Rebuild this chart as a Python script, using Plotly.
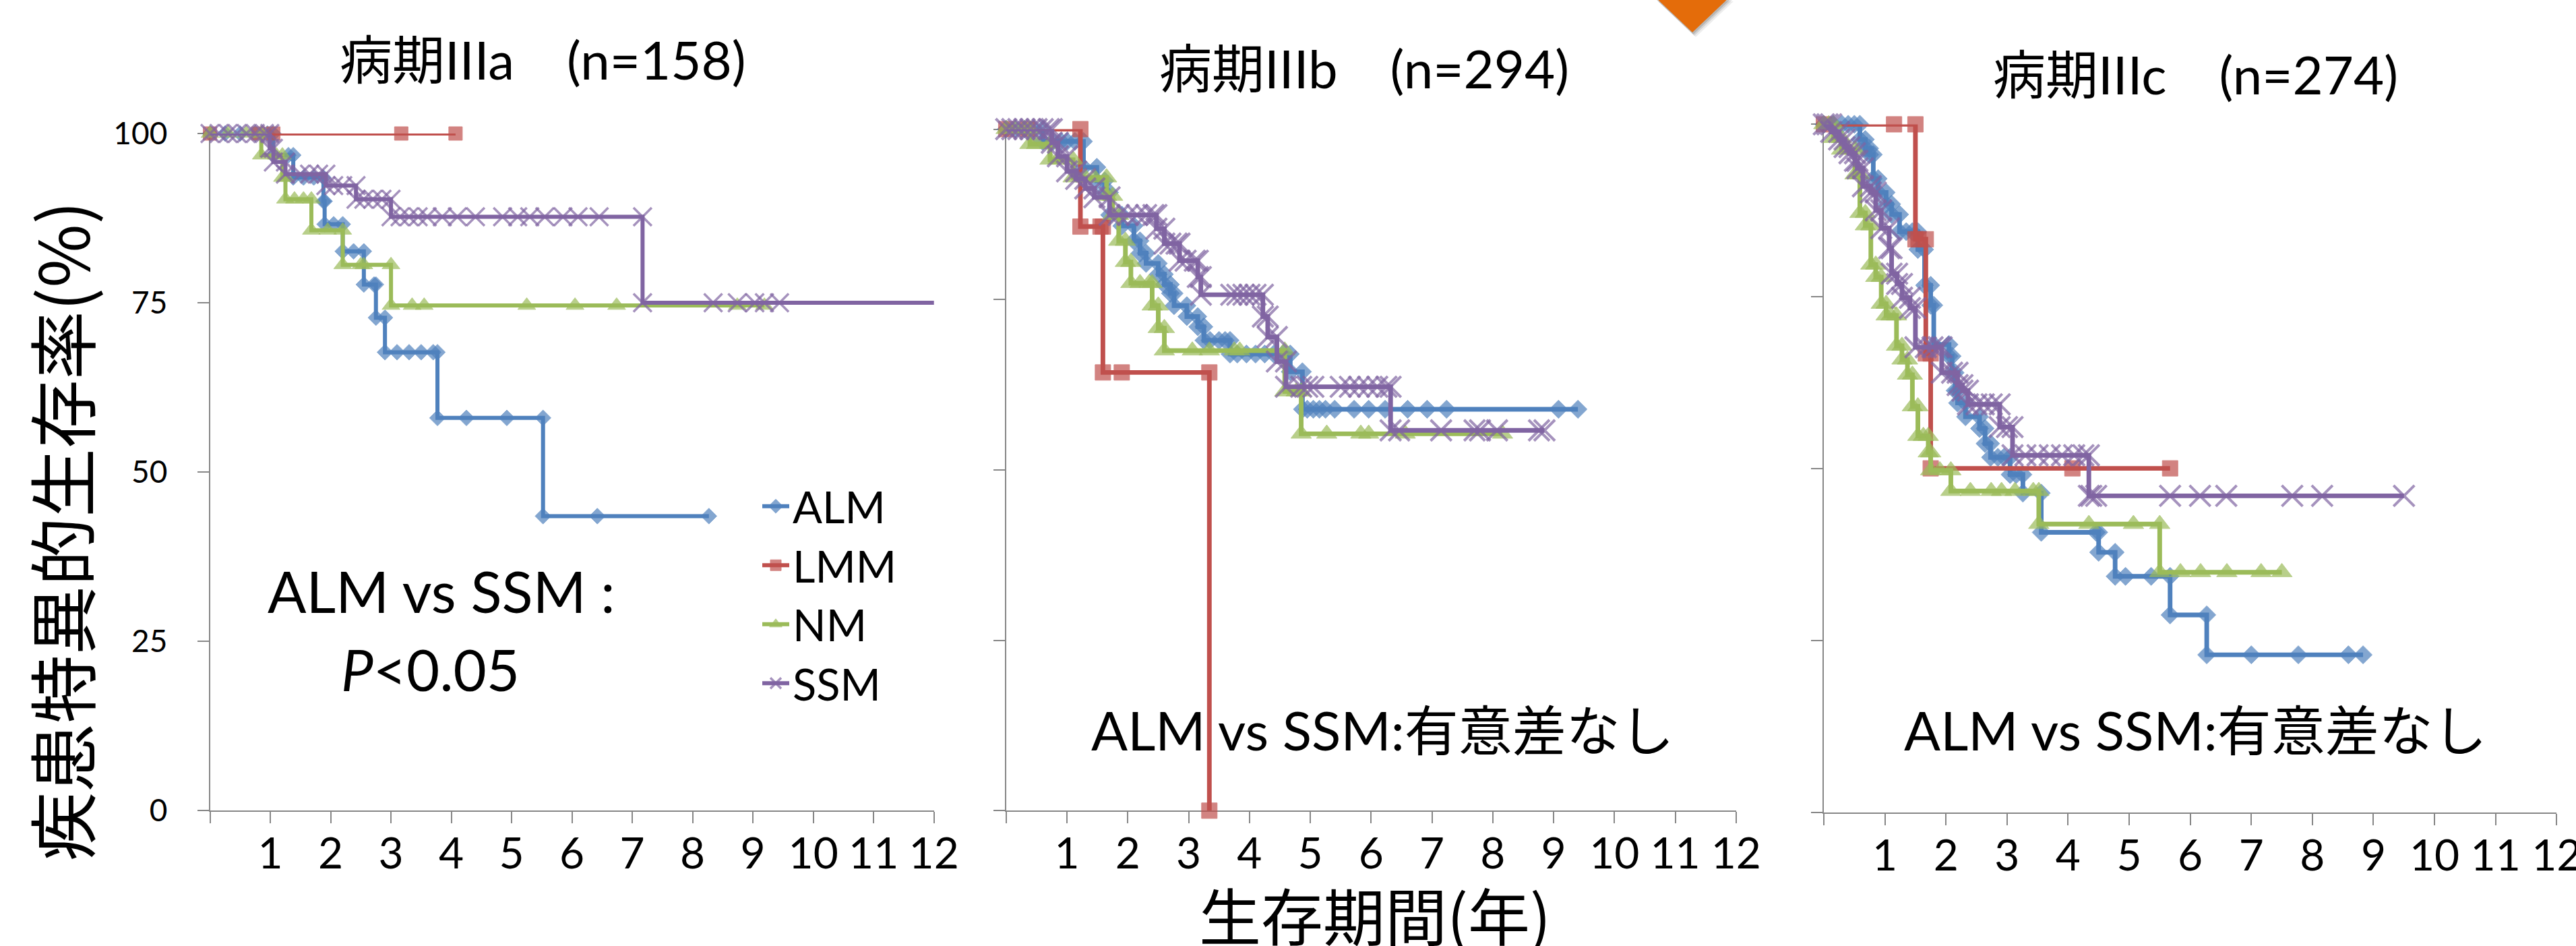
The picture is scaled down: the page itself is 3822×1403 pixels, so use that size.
import plotly.graph_objects as go

W, H = 3822, 1403

# ---- labels -------------------------------------------------------------
STAGE_TITLES = ["病期IIIa　(n=158)", "病期IIIb　(n=294)", "病期IIIc　(n=274)"]
SERIES = ["ALM", "LMM", "NM", "SSM"]
X_TICKS = list(range(0, 13))
X_TICK_LABELS = [""] + [str(i) for i in range(1, 13)]
Y_TICKS = [0, 25, 50, 75, 100]
Y_TICK_LABELS = ["0", "25", "50", "75", "100"]
X_MAX = 12

# ---- Kaplan-Meier data: time (years) / disease-specific survival (%) ----
# Stage IIIa
ALM_IIIA_T = [0, 0.25, 0.5, 0.75, 0.95, 1.05, 1.3, 1.38, 1.55, 1.72, 1.88, 1.9, 2.05, 2.2, 2.38,
              2.55, 2.72, 2.75, 2.9, 3.1, 3.3, 3.5, 3.7, 3.77, 4.25, 4.92, 5.52, 6.42, 8.27]
ALM_IIIA_S = [100, 100, 100, 100, 100, 96.8, 96.8, 93.5, 93.5, 93.5, 90.0, 86.6, 86.6, 82.6, 82.6,
              77.7, 77.7, 72.8, 67.7, 67.7, 67.7, 67.7, 67.7, 58.0, 58.0, 58.0, 43.5, 43.5, 43.5]
LMM_IIIA_T = [0, 0.8, 1.05, 3.17, 4.07]
LMM_IIIA_S = [100, 100, 100, 100, 100]
NM_IIIA_T = [0, 0.3, 0.6, 0.85, 1.1, 1.2, 1.25, 1.4, 1.55, 1.68, 1.95, 2.2, 2.5, 2.55, 3.0, 3.35,
             3.55, 5.25, 6.05, 6.74, 8.74, 9.19]
NM_IIIA_S = [100, 100, 100, 96.8, 96.8, 93.5, 90.3, 90.3, 90.3, 85.7, 85.7, 80.6, 80.6, 80.6, 74.6,
             74.6, 74.6, 74.6, 74.6, 74.6, 74.6, 74.6]
SSM_IIIA_T = [0, 0.15, 0.3, 0.45, 0.6, 0.75, 0.9, 0.99, 1.05, 1.25, 1.5, 1.65, 1.8, 1.92, 2.05, 2.2,
              2.42, 2.55, 2.7, 2.85, 3.0, 3.15, 3.3, 3.45, 3.6, 3.85, 4.1, 4.4, 4.85, 5.1, 5.3,
              5.55, 5.85, 6.1, 6.45, 7.17, 8.34, 8.74, 9.03, 9.19, 9.44, 12.6]
SSM_IIIA_S = [100, 100, 100, 100, 100, 100, 100, 97.8, 95.8, 94.0, 94.0, 94.0, 94.0, 92.3, 92.3,
              92.3, 90.3, 90.3, 90.3, 90.3, 87.7, 87.7, 87.7, 87.7, 87.7, 87.7, 87.7, 87.7, 87.7,
              87.7, 87.7, 87.7, 87.7, 87.7, 87.7, 75.0, 75.0, 75.0, 75.0, 75.0, 75.0, 75.0]

# Stage IIIb
ALM_IIIB_T = [0, 0.15, 0.3, 0.45, 0.6, 0.77, 0.9, 1.0, 1.13, 1.27, 1.49, 1.62, 1.7, 1.9, 2.1, 2.2,
              2.3, 2.5, 2.6, 2.7, 2.76, 2.97, 3.15, 3.25, 3.35, 3.5, 3.6, 3.68, 3.8, 3.95, 4.1,
              4.25, 4.4, 4.55, 4.67, 4.87, 4.95, 5.05, 5.15, 5.25, 5.4, 5.72, 5.96, 6.23, 6.6,
              6.92, 7.24, 9.08, 9.4]
ALM_IIIB_S = [100, 100, 100, 100, 98.2, 98.2, 98.2, 98.2, 98.2, 94.4, 92.4, 90.7, 87.4, 85.8, 83.6,
              81.8, 80.3, 78.7, 77.2, 75.9, 74.1, 72.5, 71.0, 69.0, 69.0, 69.0, 69.0, 67.0, 67.0,
              67.0, 67.0, 67.0, 67.0, 67.0, 64.4, 58.9, 58.9, 58.9, 58.9, 58.9, 58.9, 58.9, 58.9,
              58.9, 58.9, 58.9, 58.9, 58.9, 58.9]
LMM_IIIB_T = [0, 0.35, 1.22, 1.55, 1.59, 1.9, 3.34]
LMM_IIIB_S = [100, 100, 85.7, 85.7, 64.3, 64.3, 0]
NM_IIIB_T = [0, 0.15, 0.3, 0.39, 0.5, 0.72, 0.85, 1.1, 1.3, 1.45, 1.65, 1.75, 1.85, 1.96, 2.05, 2.2,
             2.35, 2.4, 2.5, 2.6, 3.06, 3.34, 3.75, 3.84, 4.58, 4.77, 4.85, 5.27, 5.83, 5.96, 6.56,
             8.16]
NM_IIIB_S = [100, 100, 100, 97.8, 97.8, 95.5, 95.5, 92.9, 92.9, 92.9, 90.2, 87.4, 83.6, 80.5, 77.4,
             77.4, 77.4, 74.1, 70.8, 67.5, 67.5, 67.5, 67.5, 67.5, 61.5, 61.5, 55.3, 55.3, 55.3,
             55.3, 55.3, 55.3]
SSM_IIIB_T = [0, 0.1, 0.2, 0.3, 0.4, 0.5, 0.6, 0.7, 0.75, 0.85, 1.0, 1.15, 1.3, 1.45, 1.7, 1.85,
              2.0, 2.15, 2.3, 2.42, 2.47, 2.6, 2.7, 2.8, 2.85, 2.95, 3.1, 3.15, 3.2, 3.7, 3.8,
              3.9, 4.0, 4.1, 4.22, 4.3, 4.45, 4.6, 4.85, 4.95, 5.05, 5.5, 5.65, 5.8, 5.95, 6.1,
              6.25, 6.32, 6.46, 7.15, 7.7, 7.79, 8.07, 8.76, 8.85]
SSM_IIIB_S = [100, 100, 100, 100, 100, 100, 100, 100, 98.0, 96.0, 93.8, 92.7, 91.3, 90.0, 87.4,
              87.4, 87.4, 87.4, 87.4, 87.4, 85.4, 83.2, 83.2, 83.2, 80.7, 80.7, 80.7, 78.3, 75.7,
              75.7, 75.7, 75.7, 75.7, 75.7, 72.5, 69.5, 65.9, 62.2, 62.2, 62.2, 62.2, 62.2, 62.2,
              62.2, 62.2, 62.2, 62.2, 55.8, 55.8, 55.8, 55.8, 55.8, 55.8, 55.8, 55.8]

# Stage IIIc
ALM_IIIC_T = [0, 0.15, 0.3, 0.4, 0.5, 0.59, 0.68, 0.75, 0.81, 0.89, 1.02, 1.11, 1.24, 1.35, 1.45,
              1.54, 1.65, 1.75, 1.8, 2.05, 2.1, 2.15, 2.19, 2.32, 2.55, 2.64, 2.73, 2.85, 2.95,
              3.05, 3.15, 3.26, 3.56, 4.46, 4.5, 4.77, 4.94, 5.36, 5.67, 6.27, 7.0, 7.77, 8.59,
              8.83]
ALM_IIIC_S = [100, 100, 100, 100, 100, 97.8, 96.5, 95.6, 92.1, 90.1, 88.4, 86.9, 84.4, 84.4, 84.4,
              81.8, 76.6, 73.7, 68.0, 66.3, 63.9, 61.3, 59.5, 57.5, 55.8, 53.6, 51.6, 51.6, 51.6,
              49.1, 49.1, 46.4, 40.7, 40.7, 37.8, 34.3, 34.3, 34.3, 28.7, 22.9, 22.9, 22.9, 22.9,
              22.9]
LMM_IIIC_T = [0, 1.15, 1.5, 1.55, 1.67, 1.75, 4.07, 5.67]
LMM_IIIC_S = [100, 100, 83.3, 83.3, 66.7, 50.0, 50.0, 50.0]
NM_IIIC_T = [0, 0.08, 0.16, 0.29, 0.4, 0.51, 0.59, 0.68, 0.77, 0.85, 0.94, 1.02, 1.1, 1.19, 1.28,
             1.37, 1.45, 1.54, 1.63, 1.71, 1.75, 1.9, 2.08, 2.4, 2.74, 2.91, 3.13, 3.43, 3.52,
             4.34, 5.07, 5.5, 5.84, 6.17, 6.6, 7.16, 7.5]
NM_IIIC_S = [100, 100, 98.0, 96.3, 96.3, 92.7, 87.1, 85.3, 79.6, 77.8, 73.9, 72.2, 72.2, 67.8, 65.8,
             63.6, 59.0, 54.7, 54.7, 52.3, 49.7, 49.7, 46.7, 46.7, 46.7, 46.7, 46.7, 46.7, 41.9,
             41.9, 41.9, 34.9, 34.9, 34.9, 34.9, 34.9, 34.9]
SSM_IIIC_T = [0, 0.06, 0.12, 0.25, 0.34, 0.42, 0.51, 0.55, 0.64, 0.77, 0.85, 0.94, 1.07, 1.11, 1.2,
              1.28, 1.41, 1.5, 1.67, 1.78, 1.88, 1.93, 2.1, 2.19, 2.27, 2.36, 2.5, 2.62, 2.75,
              2.88, 3.0, 3.09, 3.3, 3.5, 3.7, 3.9, 4.1, 4.25, 4.34, 4.38, 4.46, 5.67, 6.16, 6.59,
              7.67, 8.16, 9.5]
SSM_IIIC_S = [100, 100, 98.9, 97.8, 96.7, 95.8, 94.7, 93.6, 91.0, 90.1, 87.5, 84.9, 82.0, 78.3,
              76.8, 74.8, 73.3, 67.6, 67.6, 67.6, 67.6, 63.9, 63.9, 62.1, 61.3, 59.3, 59.3, 59.3,
              59.3, 56.0, 56.0, 51.9, 51.9, 51.9, 51.9, 51.9, 51.9, 51.9, 46.0, 46.0, 46.0, 46.0,
              46.0, 46.0, 46.0, 46.0, 46.0]

PANELS = [
    {"ALM": (ALM_IIIA_T, ALM_IIIA_S), "LMM": (LMM_IIIA_T, LMM_IIIA_S),
     "NM": (NM_IIIA_T, NM_IIIA_S), "SSM": (SSM_IIIA_T, SSM_IIIA_S)},
    {"ALM": (ALM_IIIB_T, ALM_IIIB_S), "LMM": (LMM_IIIB_T, LMM_IIIB_S),
     "NM": (NM_IIIB_T, NM_IIIB_S), "SSM": (SSM_IIIB_T, SSM_IIIB_S)},
    {"ALM": (ALM_IIIC_T, ALM_IIIC_S), "LMM": (LMM_IIIC_T, LMM_IIIC_S),
     "NM": (NM_IIIC_T, NM_IIIC_S), "SSM": (SSM_IIIC_T, SSM_IIIC_S)},
]

# ---- styling ------------------------------------------------------------
COLORS = {"ALM": "#4F81BD", "LMM": "#C0504D", "NM": "#9BBB59", "SSM": "#8064A2"}
SYMBOLS = {"ALM": "diamond", "LMM": "square", "NM": "triangle-up", "SSM": "x-thin"}
SIZES = {"ALM": 18, "LMM": 20, "NM": 23, "SSM": 27}
# the IIIb / IIIc charts were pasted slightly larger, so their marks are a bit bigger
PANEL_SCALE = [1.0, 1.15, 1.15]
LATIN = "Lato, 'Noto Sans CJK JP', sans-serif"
CJK = "'Noto Sans CJK JP', sans-serif"
AXIS_GREY = "#878787"


def px(x):
    return x / W


def py(y):
    return 1 - y / H


def km_points(t, s):
    """Excel-style step data: every drop gets a point at both corners."""
    xs, ys = [], []
    for i, (ti, si) in enumerate(zip(t, s)):
        if i > 0 and si != s[i - 1]:
            xs.append(ti)
            ys.append(s[i - 1])
        xs.append(ti)
        ys.append(si)
    return xs, ys


# plot-area pixel boxes (left, right, top(100%), bottom(0%))
BOXES = [(311.6, 1385.7, 198.0, 1202.3),
         (1492.9, 2575.8, 191.5, 1202.3),
         (2706.0, 3793.3, 184.4, 1204.8)]

fig = go.Figure()

for p, series in enumerate(PANELS):
    ax = "" if p == 0 else str(p + 1)
    k = PANEL_SCALE[p]
    for name in SERIES:
        t, s = series[name]
        xs, ys = km_points(t, s)
        sizes = [SIZES[name] * k if x <= X_MAX else 0 for x in xs]
        if name == "SSM":
            marker = dict(symbol=SYMBOLS[name], size=sizes,
                          line=dict(color=COLORS[name], width=3.5 * k))
        else:
            marker = dict(symbol=SYMBOLS[name], size=sizes, color=COLORS[name],
                          line=dict(color=COLORS[name], width=1))
        fig.add_trace(go.Scatter(
            x=xs, y=ys, mode="lines+markers", name=name,
            legendgroup=name, showlegend=(p == 0),
            line=dict(color=COLORS[name], width=6 * k),
            marker=marker, cliponaxis=False,
            xaxis="x" + ax, yaxis="y" + ax,
        ))

layout = dict(
    width=W, height=H, autosize=False,
    margin=dict(l=0, r=0, t=0, b=0, pad=0, autoexpand=False),
    paper_bgcolor="white", plot_bgcolor="white",
    font=dict(family=LATIN, color="black"),
    showlegend=True,
    legend=dict(x=px(1126), y=py(702), xanchor="left", yanchor="top",
                font=dict(family=LATIN, size=65, color="black"),
                bgcolor="rgba(0,0,0,0)", tracegroupgap=0, itemwidth=40),
)

for p, (x0, x1, ytop, ybot) in enumerate(BOXES):
    ax = "" if p == 0 else str(p + 1)
    layout["xaxis" + ax] = dict(
        domain=[px(x0), px(x1)], range=[0, X_MAX], anchor="y" + ax,
        tickmode="array", tickvals=X_TICKS, ticktext=X_TICK_LABELS,
        ticks="outside", ticklen=17, tickwidth=2, tickcolor=AXIS_GREY,
        showline=True, linecolor=AXIS_GREY, linewidth=2,
        showgrid=False, zeroline=False, layer="below traces", automargin=False,
        tickfont=dict(family=LATIN, size=64, color="black"),
        ticklabelstandoff=-10, ticklabeloverflow="allow", fixedrange=True,
    )
    layout["yaxis" + ax] = dict(
        domain=[py(ybot), py(ytop)], range=[0, 100], anchor="x" + ax,
        tickmode="array", tickvals=Y_TICKS, ticktext=Y_TICK_LABELS,
        showticklabels=(p == 0),
        ticks="outside", ticklen=17, tickwidth=2, tickcolor=AXIS_GREY,
        showline=True, linecolor=AXIS_GREY, linewidth=2,
        showgrid=False, zeroline=False, layer="below traces", automargin=False,
        tickfont=dict(family=LATIN, size=46, color="black"),
        ticklabelstandoff=35, fixedrange=True,
    )

fig.update_layout(**layout)

# panel titles
TITLE_POS = [(805, 88), (2024, 101), (3257, 110)]
for title, (cx, cy) in zip(STAGE_TITLES, TITLE_POS):
    fig.add_annotation(text=title, x=px(cx), y=py(cy), xref="paper", yref="paper",
                       xanchor="center", yanchor="middle", showarrow=False,
                       font=dict(family=LATIN, size=78, color="black"))

# axis titles
fig.add_annotation(text="疾患特異的生存率(%)", x=px(88), y=py(788), xref="paper", yref="paper",
                   textangle=-90, xanchor="center", yanchor="middle", showarrow=False,
                   font=dict(family=CJK, size=102, color="black"))
fig.add_annotation(text="生存期間(年)", x=px(2040), y=py(1354), xref="paper", yref="paper",
                   xanchor="center", yanchor="middle", showarrow=False,
                   font=dict(family=CJK, size=92, color="black"))

# comparison notes
fig.add_annotation(text="ALM vs SSM :", x=px(655), y=py(876), xref="paper", yref="paper",
                   xanchor="center", yanchor="middle", showarrow=False,
                   font=dict(family=LATIN, size=85, color="black"))
fig.add_annotation(text="<i>P</i>&lt;0.05", x=px(638), y=py(992), xref="paper", yref="paper",
                   xanchor="center", yanchor="middle", showarrow=False,
                   font=dict(family=LATIN, size=85, color="black"))
for cx in (2051, 3257):
    fig.add_annotation(text="ALM vs SSM:有意差なし", x=px(cx), y=py(1082),
                       xref="paper", yref="paper", xanchor="center", yanchor="middle",
                       showarrow=False, font=dict(family=LATIN, size=80, color="black"))


# orange arrow head peeking in at the top edge, with a soft shadow
def tri(dx, dy):
    return (f"M {px(2455 + dx)},{py(-5 + dy)} L {px(2567 + dx)},{py(-5 + dy)} "
            f"L {px(2511 + dx)},{py(48 + dy)} Z")


for dx, dy, op in [(5, 7, 0.07), (3, 5, 0.10), (1.5, 3, 0.14)]:
    fig.add_shape(type="path", path=tri(dx, dy), xref="paper", yref="paper",
                  fillcolor=f"rgba(0,0,0,{op})", line=dict(width=0), layer="above")
fig.add_shape(type="path", path=tri(0, 0), xref="paper", yref="paper",
              fillcolor="#E46C0A", line=dict(width=0), layer="above")

fig.write_html("out.html", config={"displayModeBar": False, "staticPlot": True})
